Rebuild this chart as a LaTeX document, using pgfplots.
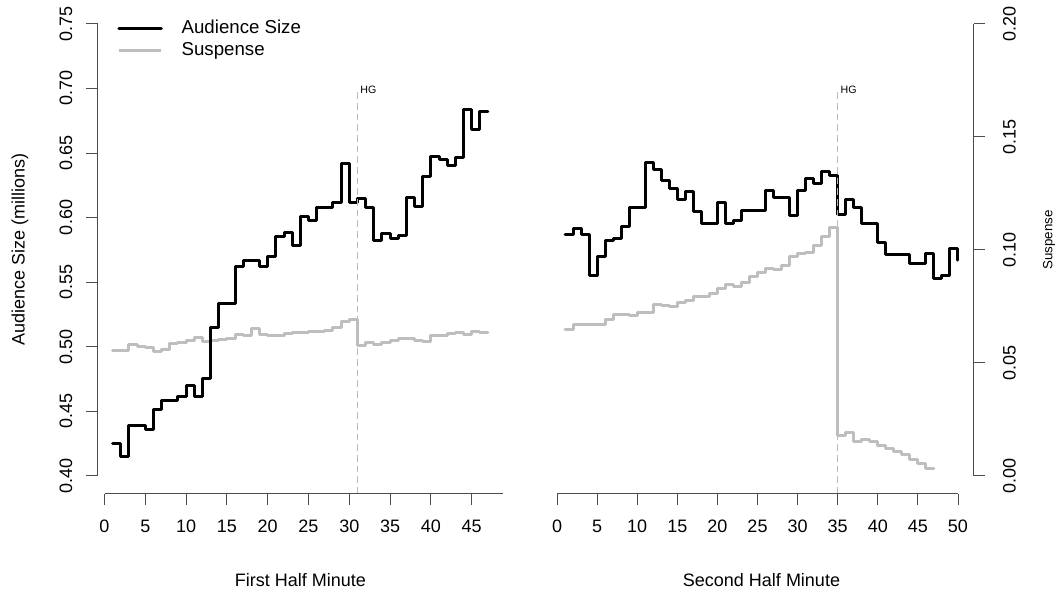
\documentclass[border=0pt]{standalone}
\usepackage{fontspec}
\setmainfont{Liberation Sans}
\usepackage{pgfplots}
\pgfplotsset{compat=1.18}
\usepackage{pgfplotstable}

\definecolor{susp}{HTML}{BEBEBE}
\definecolor{hgline}{HTML}{BBBBBB}

\pgfplotstableread{
m v
1 0.425
2 0.415
3 0.439
4 0.439
5 0.436
6 0.451
7 0.4585
8 0.4585
9 0.461
10 0.470
11 0.4616
12 0.475
13 0.515
14 0.5335
15 0.5335
16 0.5624
17 0.567
18 0.567
19 0.5624
20 0.570
21 0.585
22 0.5885
23 0.578
24 0.601
25 0.598
26 0.608
27 0.608
28 0.612
29 0.6415
30 0.612
31 0.6145
32 0.608
33 0.582
34 0.5877
35 0.584
36 0.586
37 0.6157
38 0.6084
39 0.6316
40 0.647
41 0.645
42 0.640
43 0.6464
44 0.6836
45 0.668
46 0.682
47 0.682
}\leftaud

\pgfplotstableread{
m v
1 0.0553
2 0.0553
3 0.0581
4 0.0571
5 0.0565
6 0.0551
7 0.0559
8 0.0585
9 0.0588
10 0.0600
11 0.0612
12 0.0593
13 0.0596
14 0.0604
15 0.0608
16 0.0625
17 0.0618
18 0.0652
19 0.0625
20 0.0618
21 0.0621
22 0.0627
23 0.0633
24 0.0633
25 0.0639
26 0.0636
27 0.0642
28 0.0656
29 0.0682
30 0.0692
31 0.0578
32 0.0588
33 0.0582
34 0.0589
35 0.0600
36 0.0606
37 0.0606
38 0.0597
39 0.0593
40 0.0622
41 0.0622
42 0.0627
43 0.0633
44 0.0626
45 0.0640
46 0.0634
47 0.0634
}\leftsus

\pgfplotstableread{
m v
1 0.5872
2 0.5916
3 0.5872
4 0.5554
5 0.5696
6 0.582
7 0.5839
8 0.5934
9 0.6079
10 0.6079
11 0.6425
12 0.6374
13 0.629
14 0.6226
15 0.6136
16 0.620
17 0.6045
18 0.5955
19 0.5955
20 0.6115
21 0.5955
22 0.598
23 0.6053
24 0.6053
25 0.6053
26 0.6213
27 0.6157
28 0.6157
29 0.6019
30 0.6208
31 0.6304
32 0.6265
33 0.6355
34 0.6322
35 0.6025
36 0.6136
37 0.6079
38 0.595
39 0.595
40 0.5805
41 0.5717
42 0.5717
43 0.5717
44 0.564
45 0.564
46 0.5722
47 0.5529
48 0.5547
49 0.5761
50 0.567
}\rightaud

\pgfplotstableread{
m v
1 0.0645
2 0.0667
3 0.0667
4 0.0667
5 0.0671
6 0.0692
7 0.0711
8 0.0714
9 0.0707
10 0.0721
11 0.0721
12 0.0758
13 0.0751
14 0.0748
15 0.0766
16 0.0777
17 0.0792
18 0.0792
19 0.0807
20 0.0829
21 0.0848
22 0.0836
23 0.0856
24 0.0881
25 0.0900
26 0.0918
27 0.0913
28 0.0932
29 0.0969
30 0.0984
31 0.0987
32 0.1017
33 0.1058
34 0.1100
35 0.0179
36 0.0190
37 0.0150
38 0.0160
39 0.0150
40 0.0135
41 0.0120
42 0.0105
43 0.0091
44 0.0069
45 0.0054
46 0.0032
47 0.0032
}\rightsus

\tikzset{
  axl/.style={black!70, line width=0.7pt},
  hg/.style={hgline, line width=0.7pt, dash pattern=on 5pt off 3pt},
}
\pgfplotsset{
  rstyle/.style={
    scale only axis, clip=false,
    axis line style={draw=none},
    tick align=outside,
    major tick length=8.5pt,
    tick style={black!70, line width=0.7pt},
    tick label style={font=\fontsize{13.5}{15}\selectfont},
    label style={font=\fontsize{13.5}{15}\selectfont},
    /pgf/number format/assume math mode=true,
    /pgf/number format/fixed,
    /pgf/number format/fixed zerofill,
    /pgf/number format/precision=2,
  },
  aud/.style={black, line width=2.25pt, const plot mark left, line join=round, line cap=round},
  sus/.style={susp, line width=2.25pt, const plot mark left, line join=round, line cap=round},
}

\begin{document}
\begin{tikzpicture}
\path[use as bounding box] (0,0) rectangle (792.75pt,444pt);

% ---------- Left panel ----------
\begin{axis}[rstyle, at={(73.2pt,73.8pt)}, anchor=south west,
  width=304.05pt, height=365.78pt,
  xmin=-0.846, xmax=48.84, ymin=-0.008, ymax=0.208, hide axis]
\addplot[sus] table {\leftsus};
\end{axis}

\begin{axis}[rstyle, at={(73.2pt,73.8pt)}, anchor=south west,
  width=304.05pt, height=365.78pt,
  xmin=-0.846, xmax=48.84, ymin=0.386, ymax=0.764,
  axis x line*=bottom, axis y line*=left,
  xtick={0,5,10,15,20,25,30,35,40,45},
  xticklabel style={/pgf/number format/precision=0, /pgf/number format/fixed zerofill=false, yshift=-8pt},
  ytick={0.4,0.45,0.5,0.55,0.6,0.65,0.7,0.75},
  yticklabel style={rotate=90, anchor=south, yshift=7pt},
  xlabel={First Half Minute},
  xlabel style={at={(axis description cs:0.5,0)}, anchor=center, yshift=-65pt},
  ylabel={Audience Size (millions)},
  ylabel style={at={(axis description cs:-0.1914,0.5)}, anchor=center},
  legend style={at={(0.048,0.973)}, anchor=north west, draw=none, fill=none,
    font=\fontsize{14}{16}\selectfont, row sep=2.5pt, inner sep=0pt,
    nodes={inner sep=0pt, text height=11pt, text depth=3pt},
    cells={anchor=west}},
  legend image code/.code={\draw[#1] (0pt,0pt) -- (32pt,0pt); \path (46pt,0pt);},
]
\addplot[aud] table {\leftaud};
\addlegendentry{Audience Size}
\addlegendimage{susp, line width=2.25pt}
\addlegendentry{Suspense}
\draw[hg] (axis cs:31,0.386) -- (axis cs:31,0.70);
\node[anchor=west, inner sep=2pt, font=\fontsize{8}{9}\selectfont] at (axis cs:31,0.699) {HG};
\draw[axl] (axis cs:-0.846,0.40) -- (axis cs:-0.846,0.75);
\draw[axl] (axis cs:0,0.386) -- (axis cs:48.84,0.386);
\end{axis}

% ---------- Right panel ----------
\begin{axis}[rstyle, at={(411.98pt,73.8pt)}, anchor=south west,
  width=318.3pt, height=365.78pt,
  xmin=-0.96, xmax=51.96, ymin=-0.008, ymax=0.208,
  axis x line=none, axis y line*=right,
  ytick={0,0.05,0.1,0.15,0.2},
  yticklabel style={rotate=90, anchor=north, yshift=-10pt},
  ylabel={Suspense},
  ylabel style={at={(axis description cs:1.1775,0.52)}, anchor=center, font=\fontsize{10}{12}\selectfont},
]
\addplot[sus] table {\rightsus};
\draw[axl] (axis cs:51.96,0) -- (axis cs:51.96,0.2);
\end{axis}

\begin{axis}[rstyle, at={(411.98pt,73.8pt)}, anchor=south west,
  width=318.3pt, height=365.78pt,
  xmin=-0.96, xmax=51.96, ymin=0.386, ymax=0.764,
  axis x line*=bottom, axis y line=none,
  xtick={0,5,10,15,20,25,30,35,40,45,50},
  xticklabel style={/pgf/number format/precision=0, /pgf/number format/fixed zerofill=false, yshift=-8pt},
  xlabel={Second Half Minute},
  xlabel style={at={(axis description cs:0.5,0)}, anchor=center, yshift=-65pt},
]
\addplot[aud] table {\rightaud};
\draw[hg] (axis cs:35,0.386) -- (axis cs:35,0.70);
\node[anchor=west, inner sep=2pt, font=\fontsize{8}{9}\selectfont] at (axis cs:35,0.699) {HG};
\draw[axl] (axis cs:0,0.386) -- (axis cs:50,0.386);
\end{axis}
\end{tikzpicture}
\end{document}
